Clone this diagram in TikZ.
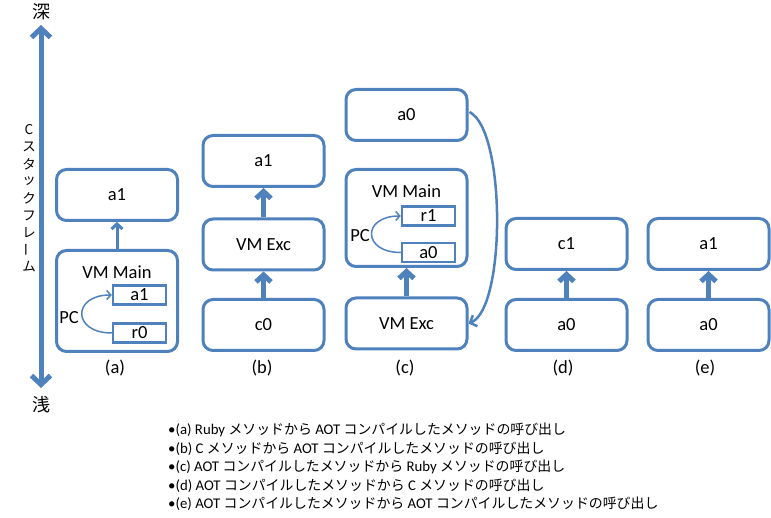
\documentclass[tikz,border=0pt]{standalone}
\usepackage{fontspec}
\setmainfont{Carlito}
\newfontfamily\cjk{Noto Sans CJK JP}
\newfontfamily\cjkv{Noto Sans CJK JP}
\usetikzlibrary{arrows.meta}
\definecolor{frame}{HTML}{4F81BD}
\newcommand{\jp}[1]{{\cjk\fontsize{13.9}{16}\selectfont #1}}

\begin{document}
\begin{tikzpicture}[x=1pt,y=-1pt,
  frame box/.style={draw=frame, line width=3pt, rounded corners=10pt,
    minimum width=121pt, minimum height=51pt, inner sep=0pt,
    font=\fontsize{18.5}{20}\selectfont},
  reg/.style={draw=frame, line width=2.5pt, minimum width=53pt,
    minimum height=19pt, inner sep=0pt, font=\fontsize{18.5}{20}\selectfont},
  lbl/.style={inner sep=0pt, font=\fontsize{18.5}{20}\selectfont},
  push/.style={draw=frame, line width=5pt,
    -{Straight Barb[length=7pt,width=15pt]}},
  call/.style={draw=frame, line width=3pt,
    -{Straight Barb[length=5pt,width=11pt]}},
  pc/.style={draw=frame, line width=1.5pt,
    -{Straight Barb[length=4pt,width=9pt]}},
  ret/.style={draw=frame, line width=2.5pt,
    -{Straight Barb[length=5.5pt,width=12pt]}},
  axis/.style={draw=frame, line width=5pt,
    {Straight Barb[length=9pt,width=19pt]}-{Straight Barb[length=9pt,width=19pt]}},
  vchar/.style={inner sep=0pt, font=\cjkv\fontsize{13.5}{13.5}\selectfont},
  note/.style={anchor=west, inner sep=0pt, font=\fontsize{14.8}{16}\selectfont}
]
\useasboundingbox (0,0) rectangle (771,518);

% depth axis of the C stack
\coordinate (deep) at (41,25);
\coordinate (shallow) at (41,388);
\draw[axis] (shallow) -- (deep);
\node[lbl, font=\cjkv\fontsize{18}{18}\selectfont] (deeplbl) at (41,12) {深};
\node[lbl, font=\cjkv\fontsize{18}{18}\selectfont] (shallowlbl) at (41,405) {浅};
\foreach \ch [count=\i] in {C,ス,タ,ッ,ク,フ,レ}
  \node[vchar] (v\i) at (29,{130+17.1*(\i-1)}) {\ch};
\node[vchar, rotate=90] (v8) at (29,{130+17.1*7}) {ー};
\node[vchar] (v9) at (29,{130+17.1*8}) {ム};

% (a)
\node[frame box] (aTop) at (117,195) {a1};
\node[frame box, minimum height=101pt] (aMain) at (117,301) {};
\node[lbl] (aMainLbl) at (117,272) {VM Main};
\node[reg] (aR1) at (139.5,295) {a1};
\node[reg] (aR0) at (139.5,333) {r0};
\node[lbl] (aPC) at (69,318) {PC};
\draw[pc] (aR0.west) .. controls (72,333) and (72,295) .. (aR1.west);
\draw[call] (aMain.north) -- (aTop.south);
\node[lbl] (aCap) at (115,368) {(a)};

% (b)
\node[frame box] (bTop) at (263.5,161) {a1};
\node[frame box] (bExc) at (263.5,244.5) {VM Exc};
\node[frame box] (bBot) at (263.5,325) {c0};
\draw[push] (bExc.north) -- (bTop.south);
\draw[push] (bBot.north) -- (bExc.south);
\node[lbl] (bCap) at (262,368) {(b)};

% (c)
\node[frame box] (cTop) at (406.5,115) {a0};
\node[frame box, minimum height=97pt] (cMain) at (406.5,218) {};
\node[lbl] (cMainLbl) at (406.5,191) {VM Main};
\node[reg] (cR1) at (428.5,216) {r1};
\node[reg] (cR0) at (428.5,252.5) {a0};
\node[lbl] (cPC) at (360,236) {PC};
\draw[pc] (cR0.west) .. controls (362,252.5) and (362,216) .. (cR1.west);
\node[frame box] (cExc) at (406.5,323.5) {VM Exc};
\draw[push] (cExc.north) -- (cMain.south);
\draw[ret] (cTop.east) ++(1,-3) .. controls (506,130) and (506,308) .. (cExc.east);
\node[lbl] (cCap) at (405,368) {(c)};

% (d)
\node[frame box] (dTop) at (566.5,244) {c1};
\node[frame box] (dBot) at (566.5,325) {a0};
\draw[push] (dBot.north) -- (dTop.south);
\node[lbl] (dCap) at (563,368) {(d)};

% (e)
\node[frame box] (eTop) at (708.5,244) {a1};
\node[frame box] (eBot) at (708.5,325) {a0};
\draw[push] (eBot.north) -- (eTop.south);
\node[lbl] (eCap) at (705,368) {(e)};

% legend
\node[note] (n1) at (168,430) {•(a) Ruby \jp{メソッドから} AOT \jp{コンパイルしたメソッドの呼び出し}};
\node[note] (n2) at (168,448.5) {•(b) C \jp{メソッドから} AOT \jp{コンパイルしたメソッドの呼び出し}};
\node[note] (n3) at (168,467) {•(c) AOT \jp{コンパイルしたメソッドから} Ruby \jp{メソッドの呼び出し}};
\node[note] (n4) at (168,485.5) {•(d) AOT \jp{コンパイルしたメソッドから} C \jp{メソッドの呼び出し}};
\node[note] (n5) at (168,504) {•(e) AOT \jp{コンパイルしたメソッドから} AOT \jp{コンパイルしたメソッドの呼び出し}};
\end{tikzpicture}
\end{document}
